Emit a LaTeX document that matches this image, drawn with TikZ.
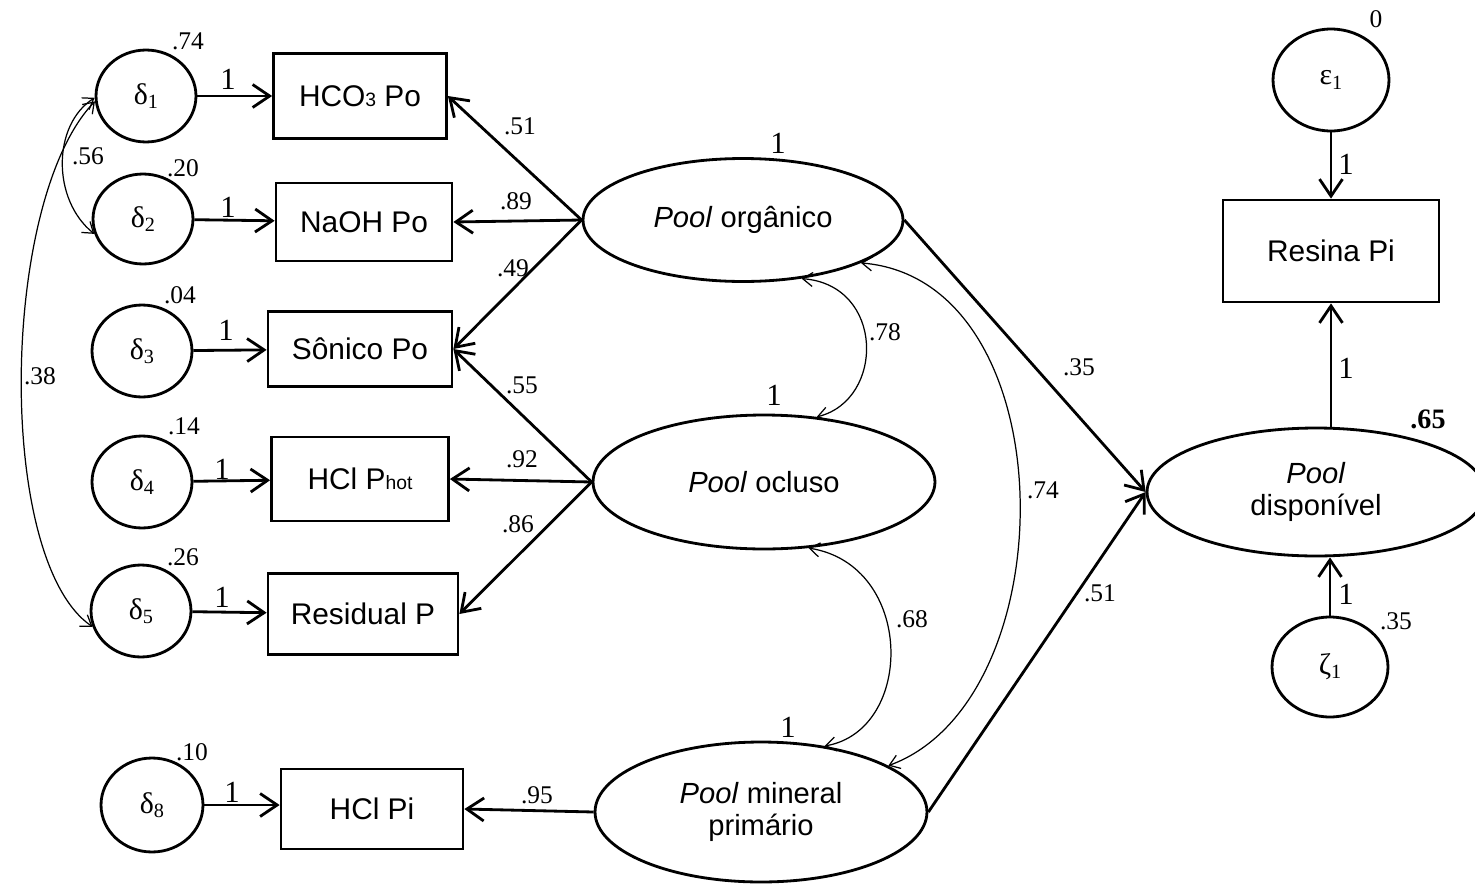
\documentclass[tikz,border=0pt]{standalone}
\usepackage{fontspec}
\setmainfont{Liberation Serif}
\setsansfont{Liberation Sans}
\usetikzlibrary{arrows.meta,shapes.geometric}

% error term label: symbol with a small lowered index
\newcommand\errlab[2]{#1\raisebox{-0.3ex}{\fontsize{11.5}{11.5}\selectfont #2}}
\newcommand\smallidx[1]{{\fontsize{11}{11}\selectfont #1}}

\tikzset{
  obs/.style={draw, line width=1.6pt, rectangle, inner sep=0pt,
              font=\sffamily\fontsize{17}{19}\selectfont},
  lat/.style={draw, line width=1.6pt, ellipse, inner sep=0pt, align=center,
              font=\sffamily\fontsize{16.6}{18.5}\selectfont},
  err/.style={draw, line width=1.6pt, ellipse, inner sep=0pt,
              font=\fontsize{17}{17}\selectfont},
  load/.style={line width=1.6pt,
               -{Straight Barb[length=3.4mm,width=4.6mm,line width=1.6pt]}},
  cov/.style={line width=0.7pt,
              {Straight Barb[length=2mm,width=2.8mm]}-{Straight Barb[length=2mm,width=2.8mm]}},
  coef/.style={font=\fontsize{14.5}{15}\selectfont, inner sep=0pt},
  one/.style={font=\fontsize{17.5}{17.5}\selectfont, inner sep=0pt},
}

\begin{document}
\begin{tikzpicture}[x=0.02cm, y=-0.02cm]
\useasboundingbox (0,0) rectangle (1475,886);

% error terms of the indicators
\node[err, minimum width=2cm, minimum height=1.84cm] (d1) at (146,96)  {\errlab{δ}{1}};
\node[err, minimum width=2cm, minimum height=1.80cm] (d2) at (143,219) {\errlab{δ}{2}};
\node[err, minimum width=2cm, minimum height=1.84cm] (d3) at (142,351) {\errlab{δ}{3}};
\node[err, minimum width=2cm, minimum height=1.84cm] (d4) at (142,482) {\errlab{δ}{4}};
\node[err, minimum width=2cm, minimum height=1.84cm] (d5) at (141,611) {\errlab{δ}{5}};
\node[err, minimum width=2.04cm, minimum height=1.88cm] (d8) at (152,805) {\errlab{δ}{8}};

% observed indicators
\node[obs, minimum width=3.46cm, minimum height=1.70cm] (hco) at (360,96)  {HCO\smallidx{3} Po};
\node[obs, minimum width=3.52cm, minimum height=1.56cm] (naoh) at (364,222) {NaOH Po};
\node[obs, minimum width=3.68cm, minimum height=1.50cm] (son) at (360,349) {Sônico Po};
\node[obs, minimum width=3.54cm, minimum height=1.68cm] (hot) at (360,479) {HCl P\smallidx{hot}};
\node[obs, minimum width=3.80cm, minimum height=1.62cm] (res) at (363,614) {Residual P};
\node[obs, minimum width=3.64cm, minimum height=1.60cm] (hcli) at (372,809) {HCl Pi};
\node[obs, minimum width=4.32cm, minimum height=2.04cm] (resina) at (1331,251) {Resina Pi};

% latent pools
\node[lat, minimum width=6.40cm, minimum height=2.46cm] (org) at (743,220) {\textit{Pool} orgânico};
\node[lat, minimum width=6.84cm, minimum height=2.68cm] (ocl) at (764,482) {\textit{Pool} ocluso};
\node[lat, minimum width=6.64cm, minimum height=2.80cm] (min) at (761,812) {\textit{Pool} mineral\\primário};
\node[lat, minimum width=6.76cm, minimum height=2.56cm] (disp) at (1316,492) {\textit{Pool}\\disponível};

% disturbances
\node[err, minimum width=2.32cm, minimum height=2.04cm] (eps) at (1331,80) {\errlab{ε}{1}};
\node[err, minimum width=2.32cm, minimum height=2.00cm] (zeta) at (1330,667) {\errlab{ζ}{1}};

% error paths
\draw[load] (d1) -- (hco);
\draw[load] (d2) -- (naoh);
\draw[load] (d3) -- (son);
\draw[load] (d4) -- (hot);
\draw[load] (d5) -- (res);
\draw[load] (d8.east) -- (d8.east -| hcli.west);

% factor loadings
\draw[load] (org.west) -- (hco.east);
\draw[load] (org.west) -- (naoh.east);
\draw[load] (org.west) -- (son.east);
\draw[load] (ocl.west) -- (son.east);
\draw[load] (ocl.west) -- (hot.east);
\draw[load] (ocl.west) -- (res.east);
\draw[load] (min.west) -- (hcli.east);

% structural paths
\draw[load] (org.east) -- (disp.west);
\draw[load] (min.east) -- (disp.west);
\draw[load] (disp.north -| resina.south) -- (resina.south);
\draw[load] (eps.south) -- (resina.north);
\draw[load] (zeta.north) -- (zeta.north |- disp.south);

% covariances
\draw[cov] (d1.182) .. controls (52,125) and (52,200) .. (d2.197);
\draw[cov] (d1.186) .. controls (0,200) and (-5,560) .. (d5.198);
\draw[cov] (org.-45) .. controls (885,285) and (885,400) .. (ocl.51);
\draw[cov] (ocl.-56) .. controls (915,565) and (915,730) .. (min.46);
\draw[cov] (org.-20) .. controls (1068,280) and (1068,700) .. (min.20);

% variances
\node[coef] (v1) at (188,41)  {.74};
\node[coef] (v2) at (183,168) {.20};
\node[coef] (v3) at (180,295) {.04};
\node[coef] (v4) at (184,426) {.14};
\node[coef] (v5) at (183,557) {.26};
\node[coef] (v8) at (192,752) {.10};
\node[coef] (v0) at (1376,19) {0};
\node[coef] (vz) at (1396,621) {.35};
\node[coef, font=\bfseries\fontsize{16}{16}\selectfont] (r2) at (1428,419) {.65};

% fixed paths
\node[one] (f1) at (228,79)  {1};
\node[one] (f2) at (228,207) {1};
\node[one] (f3) at (226,330) {1};
\node[one] (f4) at (222,469) {1};
\node[one] (f5) at (222,597) {1};
\node[one] (f8) at (232,792) {1};
\node[one] (fo) at (778,143) {1};
\node[one] (fc) at (774,395) {1};
\node[one] (fm) at (788,727) {1};
\node[one] (fe) at (1346,164) {1};
\node[one] (fr) at (1346,368) {1};
\node[one] (fz) at (1346,594) {1};

% estimates
\node[coef] (c56) at (88,156)  {.56};
\node[coef] (c38) at (40,376)  {.38};
\node[coef] (l1) at (520,126) {.51};
\node[coef] (l2) at (516,201) {.89};
\node[coef] (l3) at (513,268) {.49};
\node[coef] (l4) at (522,385) {.55};
\node[coef] (l5) at (522,459) {.92};
\node[coef] (l6) at (518,524) {.86};
\node[coef] (l7) at (537,795) {.95};
\node[coef] (c78) at (885,332) {.78};
\node[coef] (c74) at (1043,490) {.74};
\node[coef] (c68) at (912,619) {.68};
\node[coef] (b1) at (1079,367) {.35};
\node[coef] (b2) at (1100,593) {.51};
\end{tikzpicture}
\end{document}
